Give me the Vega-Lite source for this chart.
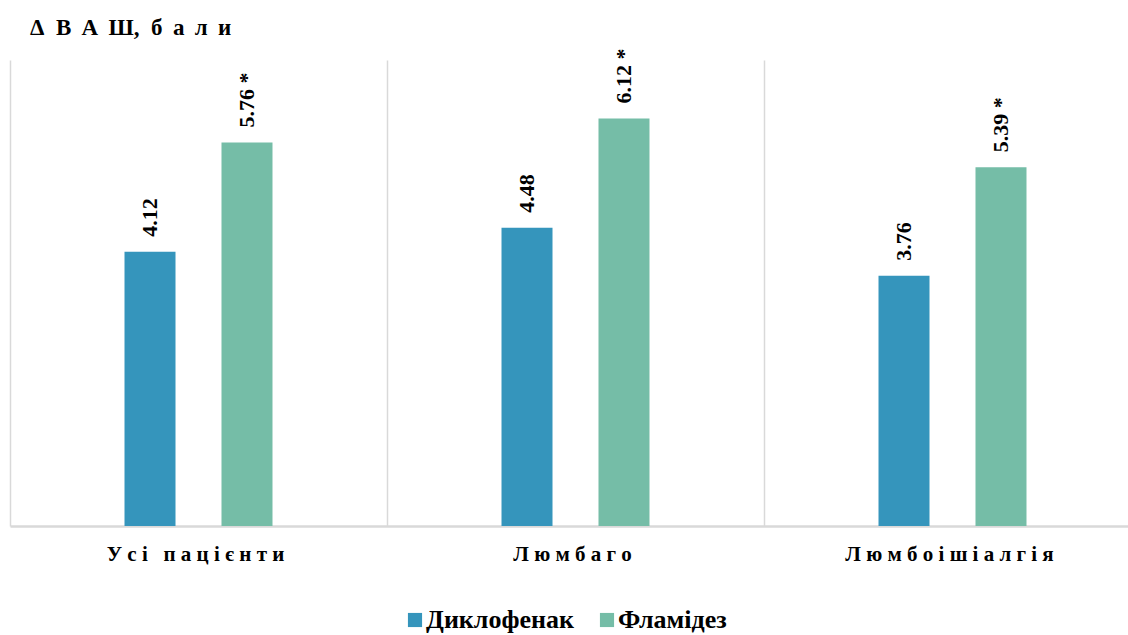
{
  "$schema": "https://vega.github.io/schema/vega-lite/v6.json",
  "autosize": "none",
  "width": 1118,
  "height": 466,
  "padding": {"left": 10, "top": 60, "right": 0, "bottom": 109},
  "background": "white",
  "config": {
    "view": {"stroke": null},
    "font": "Liberation Serif"
  },
  "title": {
    "text": "Δ\u00a0\u00a0В\u00a0\u2009А\u00a0\u2009Ш,\u00a0\u00a0б\u00a0\u2009а\u00a0\u2009л\u00a0\u2009и",
    "anchor": "start",
    "frame": "group",
    "dx": 20,
    "offset": -9,
    "baseline": "alphabetic",
    "font": "Liberation Serif",
    "fontSize": 23,
    "fontWeight": "bold",
    "color": "#000000"
  },
  "data": {
    "values": [
      {"group": "Усі пацієнти", "drug": "Диклофенак", "value": 4.12, "label": "4.12"},
      {"group": "Усі пацієнти", "drug": "Фламідез", "value": 5.76, "label": "5.76 *"},
      {"group": "Люмбаго", "drug": "Диклофенак", "value": 4.48, "label": "4.48"},
      {"group": "Люмбаго", "drug": "Фламідез", "value": 6.12, "label": "6.12 *"},
      {"group": "Люмбоішіалгія", "drug": "Диклофенак", "value": 3.76, "label": "3.76"},
      {"group": "Люмбоішіалгія", "drug": "Фламідез", "value": 5.39, "label": "5.39 *"}
    ]
  },
  "encoding": {
    "x": {
      "field": "group",
      "type": "nominal",
      "sort": ["Усі пацієнти", "Люмбаго", "Люмбоішіалгія"],
      "scale": {"paddingInner": 0, "paddingOuter": 0, "range": [0, 1131]},
      "axis": {
        "title": null,
        "labelAngle": 0,
        "ticks": false,
        "grid": true,
        "bandPosition": 0,
        "gridColor": "#d9d9d9",
        "gridWidth": 1.5,
        "domainColor": "#d9d9d9",
        "domainWidth": 2.5,
        "labelFont": "Liberation Serif",
        "labelFontSize": 21,
        "labelFontWeight": "bold",
        "labelColor": "#000000",
        "labelPadding": 17,
        "labelLimit": 0,
        "labelOffset": -3,
        "labelExpr": "replace(datum.label, regexp('(.)(?=.)', 'g'), '$1\u00a0')"
      }
    },
    "xOffset": {
      "field": "drug",
      "type": "nominal",
      "sort": ["Диклофенак", "Фламідез"],
      "scale": {"range": [0, 377], "paddingInner": 0.113, "paddingOuter": 1}
    },
    "y": {
      "field": "value",
      "type": "quantitative",
      "scale": {"domain": [0, 7], "nice": false},
      "axis": null
    }
  },
  "layer": [
    {
      "mark": {"type": "bar", "width": 51},
      "encoding": {
        "color": {
          "field": "drug",
          "type": "nominal",
          "sort": ["Диклофенак", "Фламідез"],
          "scale": {"range": ["#3595bc", "#75bda7"]},
          "legend": {
            "title": null,
            "orient": "none",
            "legendX": 392,
            "legendY": 547,
            "direction": "horizontal",
            "symbolType": "square",
            "symbolSize": 200,
            "symbolStrokeWidth": 0,
            "labelFont": "Liberation Serif",
            "labelFontSize": 26,
            "labelFontWeight": "bold",
            "labelColor": "#000000",
            "labelLimit": 0,
            "columnPadding": 20,
            "labelOffset": -2
          }
        }
      }
    },
    {
      "mark": {
        "type": "text",
        "angle": 270,
        "align": "left",
        "baseline": "middle",
        "dx": 15,
        "font": "Liberation Serif",
        "fontSize": 22,
        "fontWeight": "bold",
        "color": "#000000"
      },
      "encoding": {
        "text": {"field": "label", "type": "nominal"}
      }
    }
  ]
}
